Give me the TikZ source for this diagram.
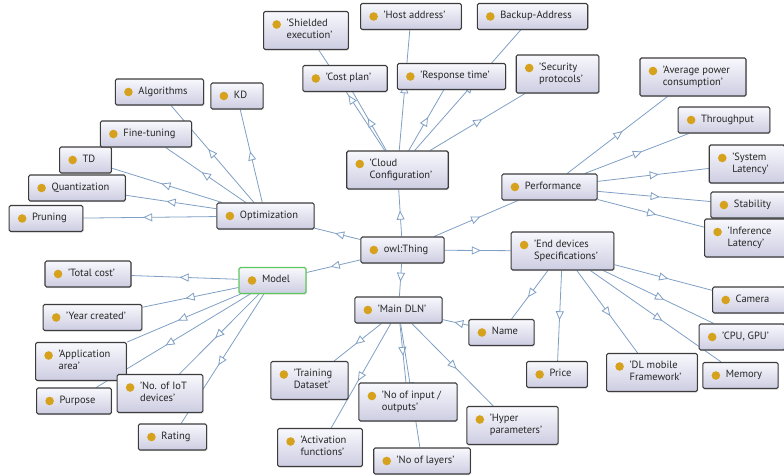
\documentclass[tikz,border=0pt]{standalone}
\usepackage{fontspec}
\setmainfont{PT Sans}
\usetikzlibrary{arrows.meta,decorations.markings,backgrounds,shadows}

\definecolor{edgeblue}{HTML}{7F9FC4}
\definecolor{boxline}{HTML}{3C3C3C}
\definecolor{boxtop}{HTML}{F8F8FD}
\definecolor{boxbot}{HTML}{CDCDE2}
\definecolor{dotgold}{HTML}{D6A21E}
\definecolor{modelgreen}{HTML}{5CC85C}

% label text, room for the dot on the left
\newcommand{\ent}[1]{\begin{tabular}{@{\hspace{23pt}}l@{\hspace{16pt}}}#1\end{tabular}}

\tikzset{
    cls/.style={draw=boxline, line width=1.1pt, rounded corners=1.5pt,
        top color=boxtop, bottom color=boxbot, text=black!85,
        drop shadow={opacity=0.2, shadow xshift=1pt, shadow yshift=-1pt},
        inner xsep=0pt, inner ysep=7pt, font=\fontsize{10.5}{12}\selectfont,
        path picture={\fill[dotgold] ([xshift=13pt,yshift=-13pt]path picture bounding box.north west) circle (4.3pt);}},
    isa/.style={draw=edgeblue, line width=0.8pt, postaction={decorate},
        decoration={markings, mark=at position 0.55 with {\arrow{Triangle[length=9pt,width=8pt,fill=white,line width=0.8pt]}}}}
}

\begin{document}
\begin{tikzpicture}[x=1pt, y=-1pt]
    \useasboundingbox (0,0) rectangle (784,475);

    % centre
    \node[cls] (thing) at (402.5, 250) {\ent{owl:Thing}};

    % cloud configuration
    \node[cls] (cloud) at (397.5, 170) {\ent{'Cloud\\Configuration'}};
    \node[cls] (shield) at (306, 30.5) {\ent{'Shielded\\execution'}};
    \node[cls] (host) at (411, 16.5) {\ent{'Host address'}};
    \node[cls] (backup) at (532.5, 16.5) {\ent{Backup-Address}};
    \node[cls] (costplan) at (345, 78.5) {\ent{'Cost plan'}};
    \node[cls] (resp) at (451.5, 76.5) {\ent{'Response time'}};
    \node[cls] (secur) at (557.5, 74) {\ent{'Security\\protocols'}};

    % performance
    \node[cls] (perf) at (549.5, 187) {\ent{Performance}};
    \node[cls] (avgpow) at (693, 77) {\ent{'Average power\\consumption'}};
    \node[cls] (thru) at (724, 120) {\ent{Throughput}};
    \node[cls] (syslat) at (747, 164) {\ent{'System\\Latency'}};
    \node[cls] (stab) at (749, 205) {\ent{Stability}};
    \node[cls] (inflat) at (746, 238) {\ent{'Inference\\Latency'}};

    % end devices
    \node[cls] (endspec) at (562.5, 251) {\ent{'End devices\\Specifications'}};
    \node[cls] (camera) at (749, 300) {\ent{Camera}};
    \node[cls] (cpu) at (742, 337) {\ent{'CPU, GPU'}};
    \node[cls] (memory) at (740.5, 375.5) {\ent{Memory}};
    \node[cls] (dlmob) at (652, 372.5) {\ent{'DL mobile\\Framework'}};
    \node[cls] (price) at (557, 374.5) {\ent{Price}};
    \node[cls] (name) at (501.5, 332.5) {\ent{Name}};

    % main DLN
    \node[cls] (maindln) at (398.5, 310) {\ent{'Main DLN'}};
    \node[cls] (train) at (309.5, 380.5) {\ent{'Training\\Dataset'}};
    \node[cls] (inout) at (408, 402) {\ent{'No of input /\\outputs'}};
    \node[cls] (hyper) at (512.5, 425.5) {\ent{'Hyper\\parameters'}};
    \node[cls] (activ) at (320, 447.5) {\ent{'Activation\\functions'}};
    \node[cls] (layers) at (422, 461) {\ent{'No of layers'}};

    % model
    \node[cls, draw=modelgreen] (model) at (272.5, 280.5) {\ent{Model}};
    \node[cls] (totcost) at (88, 274) {\ent{'Total cost'}};
    \node[cls] (year) at (92.5, 317.5) {\ent{'Year created'}};
    \node[cls] (apparea) at (81, 361.5) {\ent{'Application\\area'}};
    \node[cls] (purpose) at (74, 401) {\ent{Purpose}};
    \node[cls] (iot) at (160, 393.5) {\ent{'No. of IoT\\devices'}};
    \node[cls] (rating) at (172.5, 437) {\ent{Rating}};

    % optimization
    \node[cls] (optim) at (265.5, 216) {\ent{Optimization}};
    \node[cls] (pruning) at (46, 218.5) {\ent{Pruning}};
    \node[cls] (quant) at (77, 188) {\ent{Quantization}};
    \node[cls] (td) at (85.5, 160) {\ent{TD}};
    \node[cls] (fine) at (146, 134) {\ent{Fine-tuning}};
    \node[cls] (algo) at (159.5, 92) {\ent{Algorithms}};
    \node[cls] (kd) at (237, 96) {\ent{KD}};

    \begin{scope}[on background layer]
        \draw[isa] (thing) -- (cloud);
        \draw[isa] (thing) -- (perf);
        \draw[isa] (thing) -- (endspec);
        \draw[isa] (thing) -- (maindln);
        \draw[isa] (thing) -- (model);
        \draw[isa] (thing) -- (optim);

        \draw[isa] (cloud) -- (shield);
        \draw[isa] (cloud) -- (costplan);
        \draw[isa] (cloud) -- (host);
        \draw[isa] (cloud) -- (resp);
        \draw[isa] (cloud) -- (backup);
        \draw[isa] (cloud) -- (secur);

        \draw[isa] (perf) -- (avgpow);
        \draw[isa] (perf) -- (thru);
        \draw[isa] (perf) -- (syslat);
        \draw[isa] (perf) -- (stab);
        \draw[isa] (perf) -- (inflat);

        \draw[isa] (endspec) -- (camera);
        \draw[isa] (endspec) -- (cpu);
        \draw[isa] (endspec) -- (memory);
        \draw[isa] (endspec) -- (dlmob);
        \draw[isa] (endspec) -- (price);
        \draw[isa] (endspec) -- (name);

        \draw[isa] (name) -- (maindln);
        \draw[isa] (maindln) -- (train);
        \draw[isa] (maindln) -- (activ);
        \draw[isa] (maindln) -- (inout);
        \draw[isa] (maindln) -- (layers);
        \draw[isa] (maindln) -- (hyper);

        \draw[isa] (model) -- (totcost);
        \draw[isa] (model) -- (year);
        \draw[isa] (model) -- (apparea);
        \draw[isa] (model) -- (purpose);
        \draw[isa] (model) -- (iot);
        \draw[isa] (model) -- (rating);

        \draw[isa] (optim) -- (pruning);
        \draw[isa] (optim) -- (quant);
        \draw[isa] (optim) -- (td);
        \draw[isa] (optim) -- (fine);
        \draw[isa] (optim) -- (algo);
        \draw[isa] (optim) -- (kd);
    \end{scope}
\end{tikzpicture}
\end{document}
